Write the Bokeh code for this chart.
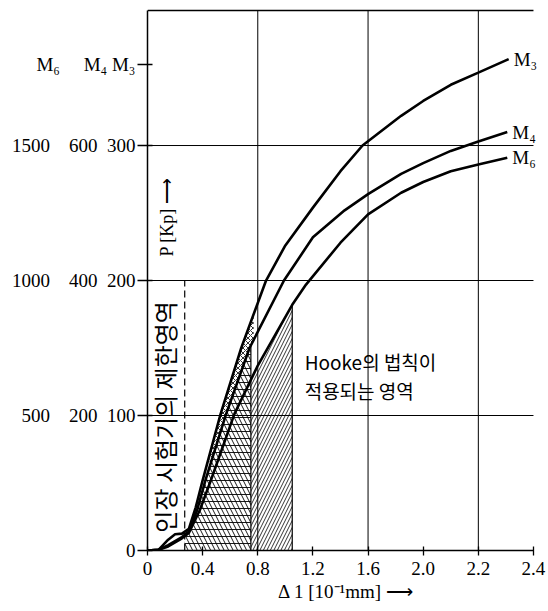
import numpy as np
from bokeh.plotting import figure
from bokeh.models import FixedTicker, Range1d
from bokeh.core.properties import value
from bokeh.embed import file_html
from bokeh.resources import INLINE

# ---- data (P in M3 units) ----
m3_x = [0, 0.08, 0.15, 0.2, 0.25, 0.3, 0.35, 0.4, 0.53, 0.68, 0.86, 1.0, 1.2, 1.4, 1.56, 1.84, 2.0, 2.2, 2.4, 2.62]
m3_y = [0, 0.5, 8, 12, 12.5, 16, 32, 52, 101, 150, 200, 226, 254, 281, 300, 322, 333, 345, 354, 364]
m4_x = [0, 0.08, 0.15, 0.2, 0.25, 0.3, 0.36, 0.42, 0.57, 0.74, 0.99, 1.2, 1.43, 1.6, 1.84, 2.0, 2.2, 2.4, 2.61]
m4_y = [0, 0.5, 4, 7, 10, 14, 30, 52, 101, 150, 200, 232, 252, 264, 279, 287, 296, 303, 310]
m6_x = [0, 0.08, 0.15, 0.2, 0.25, 0.3, 0.38, 0.46, 0.63, 0.8, 1.05, 1.15, 1.4, 1.6, 1.84, 2.0, 2.2, 2.4, 2.61]
m6_y = [0, 0.5, 3, 6, 9, 13, 30, 52, 101, 137, 182, 197, 228, 249, 265, 273, 281, 286, 291]
curve_names = ["M\u2083", "M\u2084", "M\u2086"]

NB = "\u00a0"
x_ticks = [0, 0.4, 0.8, 1.2, 1.6, 2.0, 2.4, 2.8]
x_tick_labels = ["0", "0.4", "0.8", "1.2", "1.6", "2.0", "2.2", "2.4"]
y_ticks = [0, 100, 200, 300]
y_tick_labels = ["0",
                 "500" + NB * 4 + "200" + NB * 2 + "100",
                 "1000" + NB * 4 + "400" + NB * 2 + "200",
                 "1500" + NB * 4 + "600" + NB * 2 + "300"]
header_text = "M\u2086" + NB * 5 + "M\u2084" + NB + "M\u2083"
header_y = 360
x_grid = [0.8, 1.6, 2.4]
y_grid = [100, 200, 300]
x_max = 2.8
y_max = 400

limit_x = 0.27      # 인장 시험기의 제한영역 boundary
limit_top = 200
cross_end_x = 0.75  # end of cross-hatched zone
hooke_end_x = 1.05  # end of Hooke zone

SERIF = "Liberation Serif"
KR = "Noto Sans CJK KR"

p = figure(width=548, height=611, x_range=Range1d(0, 2.88), y_range=Range1d(0, 401.5),
           output_backend="svg", toolbar_location=None,
           min_border_left=147, min_border_right=4, min_border_top=8, min_border_bottom=61)
p.outline_line_color = None
p.background_fill_color = "white"
p.border_fill_color = "white"
p.xgrid.visible = False
p.ygrid.visible = False

# axes
p.xaxis.ticker = FixedTicker(ticks=x_ticks)
p.xaxis.major_label_overrides = dict(zip(x_ticks, x_tick_labels))
p.xaxis.bounds = (0, x_max)
p.yaxis.ticker = FixedTicker(ticks=y_ticks + [header_y])
p.yaxis.major_label_overrides = dict(zip(y_ticks + [header_y], y_tick_labels + [header_text]))
p.yaxis.bounds = (0, y_max)
for ax in (p.xaxis[0], p.yaxis[0]):
    ax.axis_line_color = "black"
    ax.axis_line_width = 1.5
    ax.major_tick_line_color = "black"
    ax.major_tick_line_width = 1.3
    ax.minor_tick_line_color = None
    ax.major_label_text_font = SERIF
    ax.major_label_text_font_size = "19px"
    ax.major_label_text_color = "black"
p.xaxis.major_tick_out = 5
p.xaxis.major_tick_in = 4
p.xaxis.major_label_standoff = 6
p.yaxis.major_tick_out = 10
p.yaxis.major_tick_in = 5
p.yaxis.major_label_standoff = 2
p.xaxis.axis_label = "\u0394 1 [10\u207b\u00b9mm] \u27f6"
p.xaxis.axis_label_text_font = SERIF
p.xaxis.axis_label_text_font_size = "19px"
p.xaxis.axis_label_text_font_style = "normal"
p.xaxis.axis_label_text_color = "black"
p.xaxis.axis_label_standoff = 3

# grid lines and top border, limited to the drawn scale
p.segment(x0=x_grid, y0=[0] * len(x_grid), x1=x_grid, y1=[y_max] * len(x_grid),
          line_color="black", line_width=1)
p.segment(x0=[0] * len(y_grid), y0=y_grid, x1=[x_max] * len(y_grid), y1=y_grid,
          line_color="black", line_width=1)
p.segment(x0=[0], y0=[y_max], x1=[x_max], y1=[y_max], line_color="black", line_width=1.5)

# hatched zones
def zone(xs, ys, x0, x1):
    xs = np.asarray(xs, float)
    inner = xs[(xs > x0) & (xs < x1)]
    xx = np.concatenate([[x0], inner, [x1]])
    return xx, np.interp(xx, xs, ys)

ax_, a_top = zone(m4_x, m4_y, limit_x, cross_end_x)
p.varea(x=ax_, y1=0, y2=a_top, fill_alpha=0, hatch_pattern="horizontal_line",
        hatch_color="black", hatch_scale=7, hatch_weight=0.9)
p.varea(x=ax_, y1=0, y2=a_top, fill_alpha=0, hatch_pattern="left_diagonal_line",
        hatch_color="black", hatch_scale=9, hatch_weight=0.9)
bx, b_top3 = zone(m3_x, m3_y, 0.45, cross_end_x + 0.02)
b_low4 = np.interp(bx, m4_x, m4_y)
p.varea(x=bx, y1=b_low4, y2=b_top3, fill_alpha=0, hatch_pattern="diagonal_cross",
        hatch_color="black", hatch_scale=5, hatch_weight=0.8)
hx, h_top = zone(m6_x, m6_y, cross_end_x, hooke_end_x)
p.varea(x=hx, y1=0, y2=h_top, fill_alpha=0, hatch_pattern="right_diagonal_line",
        hatch_color="black", hatch_scale=7, hatch_weight=0.8)
p.segment(x0=[cross_end_x, hooke_end_x], y0=[0, 0], x1=[cross_end_x, hooke_end_x],
          y1=[np.interp(cross_end_x, m4_x, m4_y), np.interp(hooke_end_x, m6_x, m6_y)],
          line_color="black", line_width=1.2)

# test-machine limit (dashed)
p.segment(x0=[limit_x], y0=[0], x1=[limit_x], y1=[limit_top], line_color="black",
          line_width=1.2, line_dash="7 4")

# curves
for xs, ys in ((m3_x, m3_y), (m4_x, m4_y), (m6_x, m6_y)):
    p.line(xs, ys, line_color="black", line_width=2.6)
p.text(x=[m3_x[-1], m4_x[-1], m6_x[-1]], y=[m3_y[-1], m4_y[-1], m6_y[-1]], text=curve_names,
       x_offset=5, text_baseline="middle", text_align="left",
       text_font=value(SERIF), text_font_size="19px", text_color="black")

# annotations
p.text(x=[0.14], y=[247], text=["P [Kp] \u27f6"], angle=np.pi / 2, text_align="center",
       text_baseline="middle", text_font=value(SERIF), text_font_size="18px", text_color="black")
p.text(x=[0.12], y=[99], text=["인장 시험기의 제한영역"], angle=np.pi / 2, text_align="center",
       text_baseline="middle", text_font=value(KR), text_font_size="24px", text_color="black")
p.text(x=[1.14, 1.14], y=[140, 118.6], text=["Hooke의 법칙이", "적용되는 영역"],
       text_align="left", text_baseline="middle", text_font=value(KR),
       text_font_size="19px", text_color="black")

open("out.html", "w").write(file_html(p, INLINE))
